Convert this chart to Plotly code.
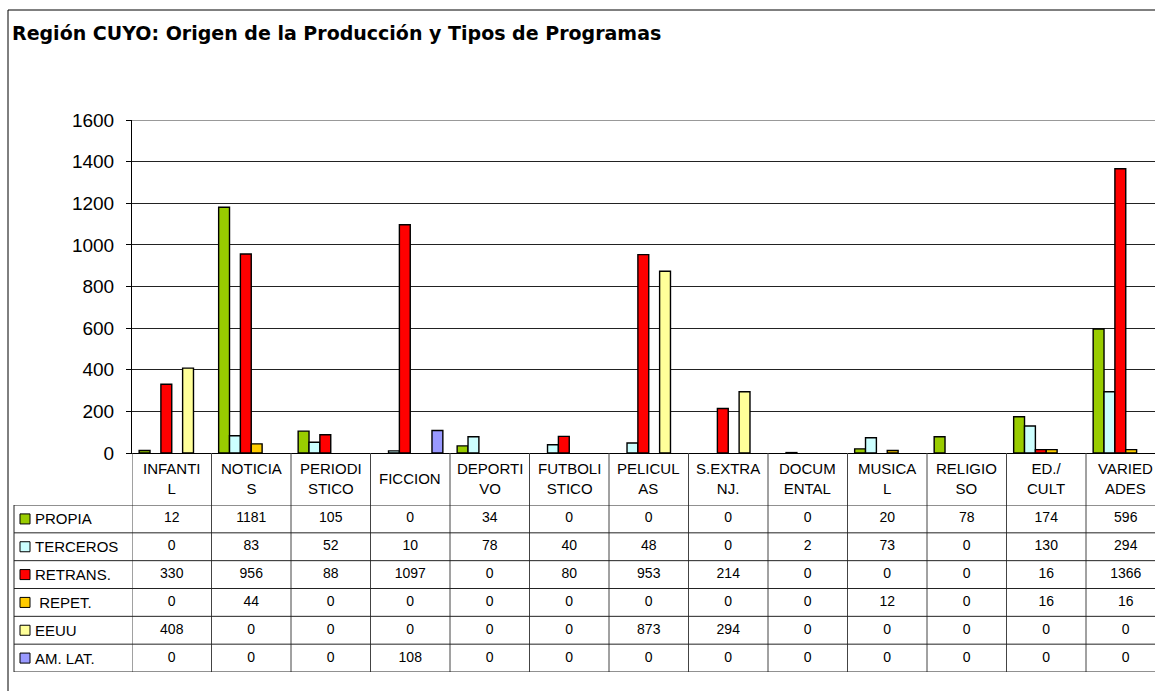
import plotly.graph_objects as go

W, H = 1155, 691

CATEGORIAS = ["INFANTIL", "NOTICIAS", "PERIODISTICO", "FICCION", "DEPORTIVO",
              "FUTBOLISTICO", "PELICULAS", "S.EXTRANJ.", "DOCUMENTAL", "MUSICAL",
              "RELIGIOSO", "ED./CULT", "VARIEDADES"]
ETIQUETAS = ["INFANTI<br>L", "NOTICIA<br>S", "PERIODI<br>STICO", "FICCION",
             "DEPORTI<br>VO", "FUTBOLI<br>STICO", "PELICUL<br>AS", "S.EXTRA<br>NJ.",
             "DOCUM<br>ENTAL", "MUSICA<br>L", "RELIGIO<br>SO", "ED./<br>CULT",
             "VARIED<br>ADES"]

PROPIA = [12, 1181, 105, 0, 34, 0, 0, 0, 0, 20, 78, 174, 596]
TERCEROS = [0, 83, 52, 10, 78, 40, 48, 0, 2, 73, 0, 130, 294]
RETRANS = [330, 956, 88, 1097, 0, 80, 953, 214, 0, 0, 0, 16, 1366]
REPET = [0, 44, 0, 0, 0, 0, 0, 0, 0, 12, 0, 16, 16]
EEUU = [408, 0, 0, 0, 0, 0, 873, 294, 0, 0, 0, 0, 0]
AMLAT = [0, 0, 0, 108, 0, 0, 0, 0, 0, 0, 0, 0, 0]

SERIES = ["PROPIA", "TERCEROS", "RETRANS.", "\u00a0REPET.", "EEUU", "AM. LAT."]
VALORES = [PROPIA, TERCEROS, RETRANS, REPET, EEUU, AMLAT]
COLORES = ["#99CC00", "#CCFFFF", "#FF0000", "#FFCC00", "#FFFF99", "#9999FF"]

FONT = "Arial, Liberation Sans, sans-serif"


def px_x(p):
    return p / W


def px_y(p):
    return 1 - p / H


# ancho de categoria ~79.5 px, el area sigue fuera de la imagen a la derecha
x_rango = [-0.5, -0.5 + (W - 132) / 79.5]

fig = go.Figure()
for nombre, vals, col in zip(SERIES, VALORES, COLORES):
    # los ceros no se dibujan (como en Excel)
    fig.add_bar(x=CATEGORIAS, y=[v if v else None for v in vals], name=nombre.strip(),
                marker=dict(color=col, line=dict(color="black", width=1.4)),
                showlegend=False)

# tabla de datos debajo del grafico
for j, (nombre, vals) in enumerate(zip(SERIES, VALORES)):
    fig.add_scatter(x=CATEGORIAS, y=[j] * len(vals), text=[str(v) for v in vals],
                    mode="text", textfont=dict(size=14, color="black", family=FONT),
                    xaxis="x2", yaxis="y2", showlegend=False, hoverinfo="skip")

shapes = []
ann = []

# linea superior gris del area de trazado
shapes.append(dict(type="line", xref="paper", yref="y", x0=px_x(132), x1=1,
                   y0=1600, y1=1600, line=dict(color="#999999", width=2)))

# lineas verticales de la tabla
for i in range(len(CATEGORIAS)):
    shapes.append(dict(type="line", xref="x", yref="paper", x0=i - 0.5, x1=i - 0.5,
                       y0=px_y(453), y1=px_y(672), line=dict(color="#444444", width=1)))
# lineas horizontales de la tabla
for k in range(len(SERIES) + 1):
    shapes.append(dict(type="line", xref="paper", yref="y2", x0=px_x(14), x1=1,
                       y0=k - 0.5, y1=k - 0.5, line=dict(color="#222222", width=1)))
shapes.append(dict(type="line", xref="paper", yref="paper", x0=px_x(14), x1=px_x(14),
                   y0=px_y(505), y1=px_y(672), line=dict(color="#222222", width=1)))

# marco exterior
shapes.append(dict(type="line", xref="paper", yref="paper", x0=px_x(8), x1=px_x(8),
                   y0=px_y(10), y1=0, line=dict(color="black", width=1)))
shapes.append(dict(type="line", xref="paper", yref="paper", x0=px_x(8), x1=1,
                   y0=px_y(10), y1=px_y(10), line=dict(color="black", width=1)))

# leyenda en la tabla
for j, (nombre, col) in enumerate(zip(SERIES, COLORES)):
    shapes.append(dict(type="rect", xref="paper", yref="y2", x0=px_x(20), x1=px_x(30),
                       y0=j - 0.18, y1=j + 0.18, fillcolor=col,
                       line=dict(color="black", width=1)))
    ann.append(dict(x=px_x(33), y=j, xref="paper", yref="y2", text=nombre,
                    showarrow=False, xanchor="left", yanchor="middle",
                    font=dict(size=15, color="black", family=FONT)))

# encabezados de categoria
for cat, lab in zip(CATEGORIAS, ETIQUETAS):
    ann.append(dict(x=cat, y=px_y(478), xref="x", yref="paper", text=lab,
                    showarrow=False, xanchor="center", yanchor="middle",
                    font=dict(size=15, color="black", family=FONT)))

ann.append(dict(x=px_x(10), y=px_y(33), xref="paper", yref="paper",
                text="<b>Región CUYO: Origen de la Producción y Tipos de Programas</b>",
                showarrow=False, xanchor="left", yanchor="middle",
                font=dict(size=19, color="black", family="DejaVu Sans, sans-serif")))

fig.update_layout(
    width=W, height=H,
    margin=dict(l=0, r=0, t=0, b=0, pad=0, autoexpand=False),
    paper_bgcolor="white", plot_bgcolor="white",
    barmode="group", bargap=0.18, bargroupgap=0,
    font=dict(family=FONT, color="black"),
    xaxis=dict(domain=[px_x(132), 1], range=x_rango, showticklabels=False,
               showline=True, linecolor="black", linewidth=1, ticks="",
               showgrid=False, zeroline=False, anchor="y", automargin=False),
    yaxis=dict(domain=[px_y(453), px_y(120)], range=[0, 1600], dtick=200,
               showline=True, linecolor="black", linewidth=1,
               ticks="outside", ticklen=5, tickcolor="black",
               ticklabelstandoff=8, automargin=False,
               tickfont=dict(size=19, color="black", family=FONT),
               showgrid=True, gridcolor="#222222", gridwidth=1, zeroline=False),
    xaxis2=dict(domain=[px_x(132), 1], matches="x", anchor="y2", visible=False,
                automargin=False),
    yaxis2=dict(domain=[px_y(672), px_y(505)], range=[len(SERIES) - 0.5, -0.5],
                anchor="x2", visible=False, automargin=False),
    shapes=shapes,
    annotations=ann,
)

fig.write_html("out.html", config={"displayModeBar": False},
               post_script="document.body.style.margin='0';"
                           "document.body.style.overflow='hidden';")
